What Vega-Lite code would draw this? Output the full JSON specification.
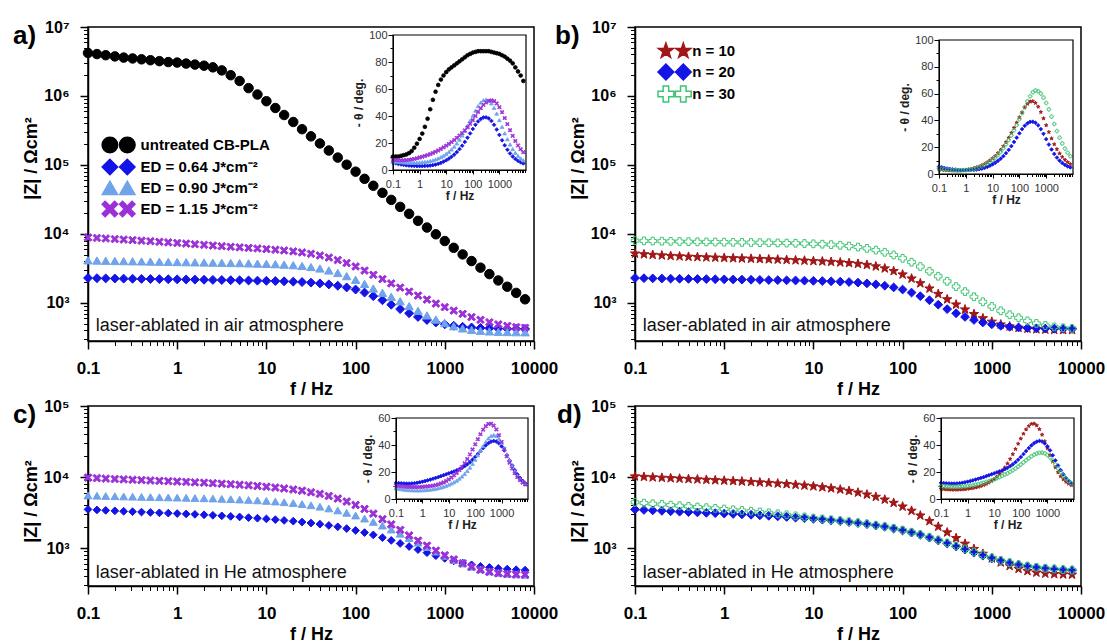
{
"$schema": "https://vega.github.io/schema/vega-lite/v6.json",
"background": "white",
"padding": {"left": 12, "top": 18, "right": 5, "bottom": 5},
"config": {
  "font": "Liberation Sans",
  "view": {"stroke": "black", "strokeWidth": 1.5},
  "axis": {"grid": false, "domainColor": "black", "tickColor": "black", "labelColor": "black", "titleColor": "black", "labelFlush": false, "labelOverlap": false}
},
"data": {"values": [
{"f":0.1,"u":4200000,"e1":2300,"e2":4150,"e3":8900,"n10":5200,"n30":8000,"c1":3500,"c2":5500,"c3":9800,"d10":10200,"d30":4400,"pu":10,"pe1":5.5,"pe2":6.5,"pe3":7.5,"pn10":3.5,"pn30":4.2,"pc1":12,"pc2":8,"pc3":10,"pd10":7.5,"pd30":9.6},
{"f":0.126,"u":4050000,"e1":2285,"e2":4120,"e3":8750,"n10":5080,"n30":7950,"c1":3440,"c2":5450,"c3":9650,"d10":10050,"d30":4300,"pu":10,"pe1":5,"pe2":6.2,"pe3":7.3,"pn10":3.2,"pn30":3.9,"pc1":11.8,"pc2":7.6,"pc3":9.7,"pd10":7.3,"pd30":9.4},
{"f":0.158,"u":3900000,"e1":2272,"e2":4090,"e3":8600,"n10":4980,"n30":7900,"c1":3390,"c2":5400,"c3":9500,"d10":9900,"d30":4200,"pu":10,"pe1":4.5,"pe2":6,"pe3":7.2,"pn10":3,"pn30":3.6,"pc1":11.6,"pc2":7.3,"pc3":9.4,"pd10":7.1,"pd30":9.2},
{"f":0.2,"u":3750000,"e1":2262,"e2":4060,"e3":8450,"n10":4890,"n30":7860,"c1":3340,"c2":5360,"c3":9380,"d10":9760,"d30":4110,"pu":10.5,"pe1":4.1,"pe2":5.8,"pe3":7.2,"pn10":2.8,"pn30":3.3,"pc1":11.5,"pc2":7,"pc3":9.2,"pd10":7,"pd30":9.1},
{"f":0.251,"u":3600000,"e1":2252,"e2":4040,"e3":8300,"n10":4810,"n30":7820,"c1":3290,"c2":5320,"c3":9260,"d10":9630,"d30":4020,"pu":11,"pe1":3.8,"pe2":5.6,"pe3":7.2,"pn10":2.7,"pn30":3.1,"pc1":11.4,"pc2":6.8,"pc3":9,"pd10":6.9,"pd30":9},
{"f":0.316,"u":3500000,"e1":2243,"e2":4020,"e3":8150,"n10":4740,"n30":7780,"c1":3250,"c2":5280,"c3":9150,"d10":9500,"d30":3940,"pu":11.5,"pe1":3.5,"pe2":5.5,"pe3":7.3,"pn10":2.6,"pn30":2.9,"pc1":11.4,"pc2":6.6,"pc3":8.9,"pd10":6.9,"pd30":9},
{"f":0.398,"u":3400000,"e1":2234,"e2":4000,"e3":8000,"n10":4680,"n30":7740,"c1":3210,"c2":5250,"c3":9040,"d10":9380,"d30":3860,"pu":12.5,"pe1":3.3,"pe2":5.4,"pe3":7.5,"pn10":2.6,"pn30":2.8,"pc1":11.5,"pc2":6.5,"pc3":8.8,"pd10":6.9,"pd30":9},
{"f":0.501,"u":3300000,"e1":2225,"e2":3980,"e3":7850,"n10":4630,"n30":7700,"c1":3170,"c2":5220,"c3":8940,"d10":9260,"d30":3780,"pu":14,"pe1":3.1,"pe2":5.4,"pe3":7.8,"pn10":2.6,"pn30":2.7,"pc1":11.7,"pc2":6.4,"pc3":8.8,"pd10":7,"pd30":9.1},
{"f":0.631,"u":3200000,"e1":2216,"e2":3960,"e3":7700,"n10":4580,"n30":7670,"c1":3130,"c2":5190,"c3":8840,"d10":9140,"d30":3700,"pu":16.5,"pe1":3,"pe2":5.4,"pe3":8.2,"pn10":2.7,"pn30":2.7,"pc1":12,"pc2":6.4,"pc3":8.8,"pd10":7.1,"pd30":9.2},
{"f":0.794,"u":3100000,"e1":2207,"e2":3940,"e3":7550,"n10":4540,"n30":7640,"c1":3100,"c2":5160,"c3":8740,"d10":9020,"d30":3620,"pu":19.5,"pe1":2.9,"pe2":5.5,"pe3":8.7,"pn10":2.9,"pn30":2.8,"pc1":12.4,"pc2":6.4,"pc3":8.9,"pd10":7.3,"pd30":9.4},
{"f":1,"u":3050000,"e1":2198,"e2":3920,"e3":7400,"n10":4500,"n30":7610,"c1":3060,"c2":5130,"c3":8640,"d10":8900,"d30":3540,"pu":23,"pe1":2.9,"pe2":5.6,"pe3":9.3,"pn10":3.1,"pn30":2.9,"pc1":12.8,"pc2":6.5,"pc3":9,"pd10":7.5,"pd30":9.6},
{"f":1.26,"u":2950000,"e1":2189,"e2":3900,"e3":7250,"n10":4460,"n30":7580,"c1":3020,"c2":5100,"c3":8530,"d10":8780,"d30":3460,"pu":27,"pe1":2.9,"pe2":5.8,"pe3":9.8,"pn10":3.4,"pn30":3.1,"pc1":13.3,"pc2":6.6,"pc3":9.2,"pd10":7.8,"pd30":9.9},
{"f":1.58,"u":2850000,"e1":2180,"e2":3880,"e3":7100,"n10":4420,"n30":7550,"c1":2980,"c2":5060,"c3":8420,"d10":8660,"d30":3380,"pu":32,"pe1":3,"pe2":6,"pe3":10.4,"pn10":3.8,"pn30":3.4,"pc1":13.8,"pc2":6.8,"pc3":9.4,"pd10":8.1,"pd30":10.2},
{"f":2,"u":2750000,"e1":2170,"e2":3860,"e3":6950,"n10":4380,"n30":7520,"c1":2940,"c2":5020,"c3":8300,"d10":8530,"d30":3300,"pu":38,"pe1":3.1,"pe2":6.3,"pe3":11.1,"pn10":4.3,"pn30":3.8,"pc1":14.4,"pc2":7,"pc3":9.6,"pd10":8.5,"pd30":10.6},
{"f":2.51,"u":2600000,"e1":2160,"e2":3840,"e3":6800,"n10":4340,"n30":7490,"c1":2890,"c2":4980,"c3":8180,"d10":8400,"d30":3220,"pu":45,"pe1":3.3,"pe2":6.7,"pe3":11.8,"pn10":4.9,"pn30":4.3,"pc1":15,"pc2":7.3,"pc3":9.9,"pd10":9,"pd30":11},
{"f":3.16,"u":2350000,"e1":2150,"e2":3820,"e3":6650,"n10":4300,"n30":7460,"c1":2840,"c2":4930,"c3":8050,"d10":8260,"d30":3130,"pu":52,"pe1":3.6,"pe2":7.2,"pe3":12.6,"pn10":5.6,"pn30":4.9,"pc1":15.6,"pc2":7.6,"pc3":10.3,"pd10":9.6,"pd30":11.5},
{"f":3.98,"u":2000000,"e1":2140,"e2":3800,"e3":6520,"n10":4260,"n30":7420,"c1":2790,"c2":4880,"c3":7920,"d10":8110,"d30":3040,"pu":58,"pe1":4,"pe2":7.8,"pe3":13.5,"pn10":6.5,"pn30":5.7,"pc1":16.2,"pc2":8,"pc3":10.8,"pd10":10.3,"pd30":12},
{"f":5.01,"u":1650000,"e1":2130,"e2":3780,"e3":6400,"n10":4210,"n30":7380,"c1":2740,"c2":4820,"c3":7780,"d10":7950,"d30":2940,"pu":63,"pe1":4.6,"pe2":8.6,"pe3":14.5,"pn10":7.5,"pn30":6.6,"pc1":16.9,"pc2":8.5,"pc3":11.5,"pd10":11.1,"pd30":12.6},
{"f":6.31,"u":1300000,"e1":2118,"e2":3750,"e3":6280,"n10":4160,"n30":7330,"c1":2680,"c2":4760,"c3":7630,"d10":7780,"d30":2840,"pu":67,"pe1":5.3,"pe2":9.5,"pe3":15.6,"pn10":8.7,"pn30":7.7,"pc1":17.6,"pc2":9.1,"pc3":12.3,"pd10":12.1,"pd30":13.2},
{"f":7.94,"u":1050000,"e1":2106,"e2":3720,"e3":6160,"n10":4110,"n30":7270,"c1":2630,"c2":4690,"c3":7470,"d10":7600,"d30":2740,"pu":70,"pe1":6.2,"pe2":10.6,"pe3":16.8,"pn10":10.1,"pn30":9,"pc1":18.3,"pc2":9.8,"pc3":13.3,"pd10":13.3,"pd30":13.9},
{"f":10,"u":840000,"e1":2093,"e2":3690,"e3":6040,"n10":4050,"n30":7200,"c1":2570,"c2":4610,"c3":7300,"d10":7400,"d30":2640,"pu":72.5,"pe1":7.2,"pe2":11.9,"pe3":18,"pn10":11.7,"pn30":10.5,"pc1":19,"pc2":10.6,"pc3":14.5,"pd10":14.7,"pd30":14.6},
{"f":12.6,"u":670000,"e1":2078,"e2":3650,"e3":5910,"n10":4000,"n30":7110,"c1":2510,"c2":4520,"c3":7110,"d10":7180,"d30":2570,"pu":74.5,"pe1":8.4,"pe2":13.4,"pe3":19.3,"pn10":13.5,"pn30":12.3,"pc1":19.7,"pc2":11.5,"pc3":15.9,"pd10":16.4,"pd30":15.4},
{"f":15.8,"u":530000,"e1":2060,"e2":3600,"e3":5770,"n10":3940,"n30":7000,"c1":2450,"c2":4420,"c3":6900,"d10":6940,"d30":2500,"pu":76,"pe1":9.8,"pe2":15.2,"pe3":20.7,"pn10":15.6,"pn30":14.3,"pc1":20.4,"pc2":12.5,"pc3":17.5,"pd10":18.4,"pd30":16.2},
{"f":20,"u":420000,"e1":2038,"e2":3530,"e3":5600,"n10":3870,"n30":6860,"c1":2390,"c2":4300,"c3":6670,"d10":6670,"d30":2430,"pu":77.5,"pe1":11.4,"pe2":17.3,"pe3":22.2,"pn10":18,"pn30":16.6,"pc1":21.2,"pc2":13.7,"pc3":19.3,"pd10":20.7,"pd30":17.1},
{"f":25.1,"u":330000,"e1":2010,"e2":3440,"e3":5400,"n10":3790,"n30":6680,"c1":2320,"c2":4160,"c3":6410,"d10":6370,"d30":2350,"pu":79,"pe1":13.3,"pe2":19.7,"pe3":23.8,"pn10":20.7,"pn30":19.2,"pc1":22.1,"pc2":15.1,"pc3":21.4,"pd10":23.3,"pd30":18},
{"f":31.6,"u":260000,"e1":1972,"e2":3320,"e3":5160,"n10":3690,"n30":6460,"c1":2250,"c2":4000,"c3":6110,"d10":6040,"d30":2270,"pu":80.5,"pe1":15.5,"pe2":22.5,"pe3":25.5,"pn10":23.7,"pn30":22.1,"pc1":23.1,"pc2":16.7,"pc3":23.8,"pd10":26.3,"pd30":19},
{"f":39.8,"u":205000,"e1":1922,"e2":3160,"e3":4880,"n10":3560,"n30":6180,"c1":2170,"c2":3820,"c3":5780,"d10":5670,"d30":2190,"pu":82,"pe1":18,"pe2":25.6,"pe3":27.3,"pn10":27,"pn30":25.3,"pc1":24.3,"pc2":18.6,"pc3":26.5,"pd10":29.6,"pd30":20.1},
{"f":50.1,"u":162000,"e1":1858,"e2":2960,"e3":4560,"n10":3390,"n30":5840,"c1":2080,"c2":3610,"c3":5400,"d10":5260,"d30":2100,"pu":83.5,"pe1":20.8,"pe2":29,"pe3":29.3,"pn10":30.6,"pn30":28.8,"pc1":25.7,"pc2":20.8,"pc3":29.6,"pd10":33.2,"pd30":21.3},
{"f":63.1,"u":128000,"e1":1778,"e2":2720,"e3":4190,"n10":3170,"n30":5430,"c1":1990,"c2":3380,"c3":4980,"d10":4810,"d30":2010,"pu":85,"pe1":23.9,"pe2":32.7,"pe3":31.6,"pn10":34.4,"pn30":32.6,"pc1":27.3,"pc2":23.3,"pc3":33,"pd10":37,"pd30":22.6},
{"f":79.4,"u":101000,"e1":1680,"e2":2450,"e3":3790,"n10":2900,"n30":4960,"c1":1880,"c2":3130,"c3":4520,"d10":4330,"d30":1900,"pu":86,"pe1":27.1,"pe2":36.5,"pe3":34.2,"pn10":38.3,"pn30":36.6,"pc1":29.1,"pc2":26.1,"pc3":36.7,"pd10":40.9,"pd30":24},
{"f":100,"u":80000,"e1":1565,"e2":2170,"e3":3380,"n10":2590,"n30":4440,"c1":1770,"c2":2870,"c3":4040,"d10":3840,"d30":1790,"pu":87,"pe1":30.4,"pe2":40.3,"pe3":37,"pn10":42.2,"pn30":41,"pc1":31.1,"pc2":29.2,"pc3":40.5,"pd10":44.7,"pd30":25.5},
{"f":126,"u":63000,"e1":1415,"e2":1890,"e3":2950,"n10":2260,"n30":3900,"c1":1650,"c2":2600,"c3":3550,"d10":3350,"d30":1670,"pu":87.5,"pe1":33.5,"pe2":44,"pe3":40,"pn10":46,"pn30":45.5,"pc1":33.3,"pc2":32.5,"pc3":44.3,"pd10":48.3,"pd30":27.1},
{"f":158,"u":50000,"e1":1255,"e2":1620,"e3":2560,"n10":1930,"n30":3370,"c1":1530,"c2":2330,"c3":3050,"d10":2870,"d30":1550,"pu":88,"pe1":36,"pe2":47.3,"pe3":43,"pn10":49.5,"pn30":50,"pc1":35.5,"pc2":35.9,"pc3":48,"pd10":51.5,"pd30":28.7},
{"f":200,"u":39500,"e1":1095,"e2":1400,"e3":2220,"n10":1620,"n30":2880,"c1":1400,"c2":2070,"c3":2550,"d10":2400,"d30":1420,"pu":88,"pe1":37.8,"pe2":50,"pe3":45.8,"pn10":52.3,"pn30":54.3,"pc1":37.7,"pc2":39.2,"pc3":51.3,"pd10":54,"pd30":30.2},
{"f":251,"u":31200,"e1":945,"e2":1230,"e3":1920,"n10":1350,"n30":2440,"c1":1280,"c2":1820,"c3":2150,"d10":2000,"d30":1300,"pu":88,"pe1":38.9,"pe2":51.7,"pe3":48.2,"pn10":54,"pn30":58,"pc1":39.7,"pc2":42.3,"pc3":54,"pd10":55.6,"pd30":31.6},
{"f":316,"u":24700,"e1":815,"e2":1060,"e3":1670,"n10":1130,"n30":2060,"c1":1160,"c2":1590,"c3":1800,"d10":1660,"d30":1180,"pu":88,"pe1":39,"pe2":52.2,"pe3":50,"pn10":54.3,"pn30":61,"pc1":41.3,"pc2":44.9,"pc3":55.6,"pd10":55.8,"pd30":32.8},
{"f":398,"u":19600,"e1":710,"e2":900,"e3":1460,"n10":950,"n30":1730,"c1":1050,"c2":1380,"c3":1510,"d10":1380,"d30":1070,"pu":88,"pe1":38.2,"pe2":51.5,"pe3":51.2,"pn10":53,"pn30":62.3,"pc1":42.5,"pc2":46.7,"pc3":55.8,"pd10":54.5,"pd30":33.7},
{"f":501,"u":15500,"e1":628,"e2":770,"e3":1280,"n10":805,"n30":1460,"c1":950,"c2":1190,"c3":1270,"d10":1150,"d30":970,"pu":87.5,"pe1":36.3,"pe2":49.3,"pe3":51.6,"pn10":50.2,"pn30":61.8,"pc1":43,"pc2":47.4,"pc3":54.4,"pd10":51.7,"pd30":34.2},
{"f":631,"u":12400,"e1":567,"e2":660,"e3":1120,"n10":690,"n30":1230,"c1":860,"c2":1030,"c3":1080,"d10":970,"d30":880,"pu":87,"pe1":33.5,"pe2":46,"pe3":51,"pn10":46.2,"pn30":60,"pc1":42.6,"pc2":46.8,"pc3":51.5,"pd10":47.6,"pd30":34.3},
{"f":794,"u":9900,"e1":522,"e2":575,"e3":980,"n10":600,"n30":1040,"c1":780,"c2":890,"c3":920,"d10":830,"d30":800,"pu":86.5,"pe1":30,"pe2":41.8,"pe3":49.3,"pn10":41.5,"pn30":57,"pc1":41.2,"pc2":44.8,"pc3":47.3,"pd10":42.7,"pd30":33.8},
{"f":1000,"u":7900,"e1":490,"e2":510,"e3":870,"n10":535,"n30":890,"c1":715,"c2":775,"c3":790,"d10":715,"d30":730,"pu":86,"pe1":26,"pe2":37,"pe3":46.5,"pn10":36.4,"pn30":53,"pc1":39,"pc2":41.6,"pc3":42.3,"pd10":37.5,"pd30":32.6},
{"f":1259,"u":6300,"e1":467,"e2":460,"e3":775,"n10":488,"n30":770,"c1":660,"c2":680,"c3":690,"d10":628,"d30":670,"pu":85,"pe1":22,"pe2":32,"pe3":42.8,"pn10":31.3,"pn30":48.2,"pc1":36,"pc2":37.6,"pc3":36.9,"pd10":32.4,"pd30":30.8},
{"f":1585,"u":5050,"e1":451,"e2":428,"e3":695,"n10":457,"n30":675,"c1":615,"c2":605,"c3":610,"d10":560,"d30":622,"pu":84,"pe1":18.3,"pe2":27.2,"pe3":38.5,"pn10":26.5,"pn30":42.8,"pc1":32.4,"pc2":33.1,"pc3":31.6,"pd10":27.6,"pd30":28.4},
{"f":1995,"u":4050,"e1":441,"e2":408,"e3":625,"n10":437,"n30":610,"c1":580,"c2":545,"c3":545,"d10":510,"d30":585,"pu":82.5,"pe1":15,"pe2":22.8,"pe3":34,"pn10":22.2,"pn30":37.3,"pc1":28.6,"pc2":28.6,"pc3":26.8,"pd10":23.4,"pd30":25.6},
{"f":2512,"u":3250,"e1":434,"e2":395,"e3":570,"n10":424,"n30":550,"c1":553,"c2":500,"c3":495,"d10":475,"d30":556,"pu":81,"pe1":12.3,"pe2":18.9,"pe3":29.5,"pn10":18.5,"pn30":32,"pc1":24.8,"pc2":24.4,"pc3":22.6,"pd10":19.8,"pd30":22.7},
{"f":3162,"u":2620,"e1":429,"e2":387,"e3":525,"n10":416,"n30":505,"c1":533,"c2":468,"c3":462,"d10":452,"d30":535,"pu":79,"pe1":10,"pe2":15.5,"pe3":25.3,"pn10":15.3,"pn30":27.1,"pc1":21.3,"pc2":20.6,"pc3":19.1,"pd10":16.8,"pd30":19.9},
{"f":3981,"u":2120,"e1":425,"e2":382,"e3":490,"n10":411,"n30":472,"c1":517,"c2":447,"c3":442,"d10":438,"d30":519,"pu":76,"pe1":8.2,"pe2":12.7,"pe3":21.5,"pn10":12.7,"pn30":22.8,"pc1":18.2,"pc2":17.4,"pc3":16.2,"pd10":14.5,"pd30":17.4},
{"f":5012,"u":1720,"e1":423,"e2":379,"e3":465,"n10":408,"n30":450,"c1":505,"c2":433,"c3":431,"d10":430,"d30":507,"pu":73,"pe1":6.8,"pe2":10.4,"pe3":18.2,"pn10":10.5,"pn30":19,"pc1":15.6,"pc2":14.8,"pc3":13.9,"pd10":12.7,"pd30":15.2},
{"f":6310,"u":1400,"e1":421,"e2":377,"e3":448,"n10":406,"n30":437,"c1":495,"c2":425,"c3":425,"d10":425,"d30":497,"pu":70,"pe1":5.7,"pe2":8.6,"pe3":15.4,"pn10":8.8,"pn30":15.9,"pc1":13.4,"pc2":12.7,"pc3":12.1,"pd10":11.3,"pd30":13.3},
{"f":7943,"u":1130,"e1":420,"e2":376,"e3":437,"n10":405,"n30":428,"c1":488,"c2":420,"c3":422,"d10":422,"d30":490,"pu":66,"pe1":4.9,"pe2":7.2,"pe3":13.2,"pn10":7.4,"pn30":13.3,"pc1":11.6,"pc2":11,"pc3":10.8,"pd10":10.2,"pd30":11.8}
]},
"columns": 2,
"spacing": {"row": 65, "column": 101},
"bounds": "flush",
"resolve": {"scale": {"fill": "independent", "stroke": "independent", "shape": "independent", "size": "independent"}},
"concat": [
{
  "width": 446, "height": 314,
  "title": {"text": "a)", "anchor": "start", "frame": "group", "fontSize": 26, "fontWeight": "bold", "color": "black", "dx": -75, "dy": 51, "offset": 0, "baseline": "alphabetic"},
  "layer": [
    {
      "transform": [{"fold": ["u", "e1", "e2", "e3"], "as": ["s", "z"]}],
      "mark": {"type": "point", "filled": true, "opacity": 1, "size": 0},
      "encoding": {
        "x": {"field": "f", "type": "quantitative", "scale": {"type": "log", "domain": [0.1, 10000], "nice": false}, "axis": null},
        "y": {"field": "z", "type": "quantitative", "scale": {"type": "log", "domain": [281, 10000000], "nice": false}, "axis": null},
        "fill": {"field": "s", "type": "nominal", "scale": {"domain": ["u", "e1", "e2", "e3"], "range": ["#000000", "#1414e6", "#6fa3ea", "#9b30d8"]},
                 "legend": {"orient": "none", "legendX": 21.6, "legendY": 109, "title": null, "padding": 0, "symbolSize": 250, "symbolOpacity": 1, "symbolStrokeWidth": 1.2, "labelFontSize": 15, "labelFontWeight": "bold", "labelColor": "black", "labelOffset": 13, "rowPadding": 0,
                            "labelExpr": "datum.value == 'u' ? 'untreated CB-PLA' : datum.value == 'e1' ? 'ED = 0.64 J*cm⁻²' : datum.value == 'e2' ? 'ED = 0.90 J*cm⁻²' : 'ED = 1.15 J*cm⁻²'"}},
        "stroke": {"field": "s", "type": "nominal", "scale": {"domain": ["u", "e1", "e2", "e3"], "range": ["#000000", "#1414e6", "#6fa3ea", "#9b30d8"]}},
        "shape": {"field": "s", "type": "nominal", "scale": {"domain": ["u", "e1", "e2", "e3"], "range": [
          "M-2.1,0A1,1 0 1,1 -0.1,0A1,1 0 1,1 -2.1,0ZM0.1,0A1,1 0 1,1 2.1,0A1,1 0 1,1 0.1,0Z",
          "M-2.1,0L-1.1,-1L-0.1,0L-1.1,1ZM0.1,0L1.1,-1L2.1,0L1.1,1Z",
          "M-2.1,0.85L-1.1,-0.9L-0.1,0.85ZM0.1,0.85L1.1,-0.9L2.1,0.85Z",
          "M-2.1,-0.6L-1.7,-1L-1.1,-0.4L-0.5,-1L-0.1,-0.6L-0.7,0L-0.1,0.6L-0.5,1L-1.1,0.4L-1.7,1L-2.1,0.6L-1.5,0ZM0.1,-0.6L0.5,-1L1.1,-0.4L1.7,-1L2.1,-0.6L1.5,0L2.1,0.6L1.7,1L1.1,0.4L0.5,1L0.1,0.6L0.7,0Z"]}}
      }
    },
    {
      "transform": [{"fold": ["u", "e1", "e2", "e3"], "as": ["s", "z"]}],
      "mark": {"type": "point", "filled": true, "opacity": 1, "strokeWidth": 1},
      "encoding": {
        "x": {"field": "f", "type": "quantitative", "scale": {"type": "log", "domain": [0.1, 10000], "nice": false},
              "axis": {"orient": "bottom", "values": [0.1, 1, 10, 100, 1000, 10000], "format": "~g", "labelFontSize": 17, "labelFontWeight": "bold", "labelPadding": 11, "tickSize": 8, "tickWidth": 1.5, "domainWidth": 1.5, "title": "f / Hz", "titleFontSize": 18, "titleFontWeight": "bold", "titlePadding": 4}},
        "y": {"field": "z", "type": "quantitative", "scale": {"type": "log", "domain": [281, 10000000], "nice": false},
              "axis": {"orient": "left", "values": [1000, 10000, 100000, 1000000, 10000000], "labelExpr": "'10' + ['⁰','¹','²','³','⁴','⁵','⁶','⁷'][round(log(datum.value)/LN10)]", "labelFontSize": 16, "labelFontWeight": "bold", "labelPadding": 11, "tickSize": 8, "tickWidth": 1.5, "domainWidth": 1.5, "title": "|Z| / Ωcm²", "titleFontSize": 18, "titleFontWeight": "bold", "titleX": -57, "titleY": 131, "titleBaseline": "middle", "titleAlign": "center", "titleAngle": -90}},
        "fill": {"field": "s", "type": "nominal", "scale": {"domain": ["u", "e1", "e2", "e3"], "range": ["#000000", "#1414e6", "#6fa3ea", "#9b30d8"]}, "legend": null},
        "stroke": {"field": "s", "type": "nominal", "scale": {"domain": ["u", "e1", "e2", "e3"], "range": ["#000000", "#1414e6", "#6fa3ea", "#9b30d8"]}, "legend": null},
        "shape": {"field": "s", "type": "nominal", "scale": {"domain": ["u", "e1", "e2", "e3"], "range": ["circle", "diamond", "triangle-up", "M-1,-0.6L-0.6,-1L0,-0.4L0.6,-1L1,-0.6L0.4,0L1,0.6L0.6,1L0,0.4L-0.6,1L-1,0.6L-0.4,0Z"]}, "legend": null},
        "size": {"field": "s", "type": "nominal", "scale": {"domain": ["u", "e1", "e2", "e3"], "range": [90, 60, 62, 70]}, "legend": null}
      }
    },
    {
      "data": {"values": [{}]},
      "mark": {"type": "text", "text": "laser-ablated in air atmosphere", "align": "left", "baseline": "middle", "fontSize": 18, "color": "#111111"},
      "encoding": {
        "x": {"datum": 0.122, "type": "quantitative", "scale": {"type": "log", "domain": [0.1, 10000], "nice": false},
              "axis": {"orient": "bottom", "values": [0.2,0.3,0.4,0.5,0.6,0.7,0.8,0.9,2,3,4,5,6,7,8,9,20,30,40,50,60,70,80,90,200,300,400,500,600,700,800,900,2000,3000,4000,5000,6000,7000,8000,9000], "labels": false, "domain": false, "tickSize": 4.5, "tickWidth": 1, "title": null}},
        "y": {"datum": 465, "type": "quantitative", "scale": {"type": "log", "domain": [281, 10000000], "nice": false},
              "axis": {"orient": "left", "values": [300,400,500,600,700,800,900,2000,3000,4000,5000,6000,7000,8000,9000,20000,30000,40000,50000,60000,70000,80000,90000,200000,300000,400000,500000,600000,700000,800000,900000,2000000,3000000,4000000,5000000,6000000,7000000,8000000,9000000], "labels": false, "domain": false, "tickSize": 4.5, "tickWidth": 1, "title": null}}
      }
    },
    {
      "transform": [{"fold": ["pu", "pe1", "pe2", "pe3"], "as": ["s", "p"]}],
      "mark": {"type": "point", "filled": true, "opacity": 1, "size": 14, "strokeWidth": 0.8},
      "encoding": {
        "x": {"field": "f", "type": "quantitative", "scale": {"type": "log", "domain": [0.1, 10000], "range": [305, 438], "nice": false},
              "axis": {"orient": "bottom", "offset": -171, "values": [0.1, 1, 10, 100, 1000], "format": "~g", "labelFontSize": 11, "labelColor": "#333333", "labelPadding": 4, "tickSize": 4, "tickWidth": 1, "domainWidth": 1, "title": "f / Hz", "titleFontSize": 12, "titleFontWeight": "bold", "titleColor": "#222222", "titlePadding": 1}},
        "y": {"field": "p", "type": "quantitative", "scale": {"domain": [0, 100], "range": [143, 8], "nice": false, "zero": false},
              "axis": {"orient": "left", "offset": -305, "values": [0, 20, 40, 60, 80, 100], "labelFontSize": 11, "labelColor": "#333333", "labelPadding": 1, "tickSize": 5, "tickWidth": 1, "domainWidth": 1, "title": "- θ / deg.", "titleFontSize": 12, "titleFontWeight": "bold", "titleColor": "#222222", "titlePadding": 3}},
        "fill": {"field": "s", "type": "nominal", "scale": {"domain": ["pu", "pe1", "pe2", "pe3"], "range": ["#000000", "#1414e6", "#6fa3ea", "#9b30d8"]}, "legend": null},
        "stroke": {"field": "s", "type": "nominal", "scale": {"domain": ["pu", "pe1", "pe2", "pe3"], "range": ["#000000", "#1414e6", "#6fa3ea", "#9b30d8"]}, "legend": null},
        "shape": {"field": "s", "type": "nominal", "scale": {"domain": ["pu", "pe1", "pe2", "pe3"], "range": ["circle", "diamond", "triangle-up", "M-1,-0.6L-0.6,-1L0,-0.4L0.6,-1L1,-0.6L0.4,0L1,0.6L0.6,1L0,0.4L-0.6,1L-1,0.6L-0.4,0Z"]}, "legend": null}
      }
    },
    {
      "data": {"values": [{}]},
      "mark": {"type": "rect", "fill": "transparent", "stroke": "black", "strokeWidth": 1.2},
      "encoding": {
        "x": {"datum": 0.1, "type": "quantitative", "scale": {"type": "log", "domain": [0.1, 10000], "range": [305, 438], "nice": false},
              "axis": {"orient": "bottom", "offset": -171, "values": [0.2,0.3,0.4,0.5,0.6,0.7,0.8,0.9,2,3,4,5,6,7,8,9,20,30,40,50,60,70,80,90,200,300,400,500,600,700,800,900,2000,3000,4000,5000,6000,7000,8000,9000], "labels": false, "domain": false, "tickSize": 2.5, "tickWidth": 1, "title": null}},
        "x2": {"datum": 10000},
        "y": {"datum": 0, "type": "quantitative", "scale": {"domain": [0, 100], "range": [143, 8], "nice": false, "zero": false},
              "axis": {"orient": "left", "offset": -305, "values": [10, 30, 50, 70, 90], "labels": false, "domain": false, "tickSize": 3, "tickWidth": 1, "title": null}},
        "y2": {"datum": 100}
      }
    }
  ],
  "resolve": {"scale": {"x": "independent", "y": "independent", "fill": "independent", "stroke": "independent", "shape": "independent", "size": "independent"}}
},
{
  "width": 446, "height": 314,
  "title": {"text": "b)", "anchor": "start", "frame": "group", "fontSize": 26, "fontWeight": "bold", "color": "black", "dx": -80, "dy": 51, "offset": 0, "baseline": "alphabetic"},
  "layer": [
    {
      "transform": [{"fold": ["n10", "e1", "n30"], "as": ["s", "z"]}],
      "mark": {"type": "point", "filled": true, "opacity": 1, "size": 0},
      "encoding": {
        "x": {"field": "f", "type": "quantitative", "scale": {"type": "log", "domain": [0.1, 10000], "nice": false}, "axis": null},
        "y": {"field": "z", "type": "quantitative", "scale": {"type": "log", "domain": [281, 10000000], "nice": false}, "axis": null},
        "fill": {"field": "s", "type": "nominal", "scale": {"domain": ["n10", "e1", "n30"], "range": ["#a11616", "#1414e6", "transparent"]},
                 "legend": {"orient": "none", "legendX": 30.6, "legendY": 15, "title": null, "padding": 0, "symbolSize": 250, "symbolOpacity": 1, "symbolStrokeWidth": 1.5, "labelFontSize": 15, "labelFontWeight": "bold", "labelColor": "black", "labelOffset": 8.6, "rowPadding": 0,
                            "labelExpr": "datum.value == 'n10' ? 'n = 10' : datum.value == 'e1' ? 'n = 20' : 'n = 30'"}},
        "stroke": {"field": "s", "type": "nominal", "scale": {"domain": ["n10", "e1", "n30"], "range": ["#a11616", "#1414e6", "#3fc474"]}},
        "shape": {"field": "s", "type": "nominal", "scale": {"domain": ["n10", "e1", "n30"], "range": [
          "M-1.1,-1L-0.865,-0.324L-0.149,-0.309L-0.72,0.124L-0.512,0.809L-1.1,0.4L-1.688,0.809L-1.48,0.124L-2.051,-0.309L-1.335,-0.324ZM1.1,-1L1.335,-0.324L2.051,-0.309L1.48,0.124L1.688,0.809L1.1,0.4L0.512,0.809L0.72,0.124L0.149,-0.309L0.865,-0.324Z",
          "M-2.1,0L-1.1,-1L-0.1,0L-1.1,1ZM0.1,0L1.1,-1L2.1,0L1.1,1Z",
          "M-1.45,-1H-0.75V-0.35H-0.1V0.35H-0.75V1H-1.45V0.35H-2.1V-0.35H-1.45ZM0.75,-1H1.45V-0.35H2.1V0.35H1.45V1H0.75V0.35H0.1V-0.35H0.75Z"]}}
      }
    },
    {
      "transform": [{"fold": ["n10", "e1", "n30"], "as": ["s", "z"]}],
      "mark": {"type": "point", "filled": true, "opacity": 1, "strokeWidth": 1},
      "encoding": {
        "x": {"field": "f", "type": "quantitative", "scale": {"type": "log", "domain": [0.1, 10000], "nice": false},
              "axis": {"orient": "bottom", "values": [0.1, 1, 10, 100, 1000, 10000], "format": "~g", "labelFontSize": 17, "labelFontWeight": "bold", "labelPadding": 11, "tickSize": 8, "tickWidth": 1.5, "domainWidth": 1.5, "title": "f / Hz", "titleFontSize": 18, "titleFontWeight": "bold", "titlePadding": 4}},
        "y": {"field": "z", "type": "quantitative", "scale": {"type": "log", "domain": [281, 10000000], "nice": false},
              "axis": {"orient": "left", "values": [1000, 10000, 100000, 1000000, 10000000], "labelExpr": "'10' + ['⁰','¹','²','³','⁴','⁵','⁶','⁷'][round(log(datum.value)/LN10)]", "labelFontSize": 16, "labelFontWeight": "bold", "labelPadding": 11, "tickSize": 8, "tickWidth": 1.5, "domainWidth": 1.5, "title": "|Z| / Ωcm²", "titleFontSize": 18, "titleFontWeight": "bold", "titleX": -57, "titleY": 131, "titleBaseline": "middle", "titleAlign": "center", "titleAngle": -90}},
        "fill": {"field": "s", "type": "nominal", "scale": {"domain": ["n10", "e1", "n30"], "range": ["#a11616", "#1414e6", "transparent"]}, "legend": null},
        "stroke": {"field": "s", "type": "nominal", "scale": {"domain": ["n10", "e1", "n30"], "range": ["#a11616", "#1414e6", "#3fc474"]}, "legend": null},
        "shape": {"field": "s", "type": "nominal", "scale": {"domain": ["n10", "e1", "n30"], "range": ["M0,-1L0.235,-0.324L0.951,-0.309L0.38,0.124L0.588,0.809L0,0.4L-0.588,0.809L-0.38,0.124L-0.951,-0.309L-0.235,-0.324Z", "diamond", "cross"]}, "legend": null},
        "size": {"field": "s", "type": "nominal", "scale": {"domain": ["n10", "e1", "n30"], "range": [95, 60, 85]}, "legend": null}
      }
    },
    {
      "data": {"values": [{}]},
      "mark": {"type": "text", "text": "laser-ablated in air atmosphere", "align": "left", "baseline": "middle", "fontSize": 18, "color": "#111111"},
      "encoding": {
        "x": {"datum": 0.122, "type": "quantitative", "scale": {"type": "log", "domain": [0.1, 10000], "nice": false},
              "axis": {"orient": "bottom", "values": [0.2,0.3,0.4,0.5,0.6,0.7,0.8,0.9,2,3,4,5,6,7,8,9,20,30,40,50,60,70,80,90,200,300,400,500,600,700,800,900,2000,3000,4000,5000,6000,7000,8000,9000], "labels": false, "domain": false, "tickSize": 4.5, "tickWidth": 1, "title": null}},
        "y": {"datum": 465, "type": "quantitative", "scale": {"type": "log", "domain": [281, 10000000], "nice": false},
              "axis": {"orient": "left", "values": [300,400,500,600,700,800,900,2000,3000,4000,5000,6000,7000,8000,9000,20000,30000,40000,50000,60000,70000,80000,90000,200000,300000,400000,500000,600000,700000,800000,900000,2000000,3000000,4000000,5000000,6000000,7000000,8000000,9000000], "labels": false, "domain": false, "tickSize": 4.5, "tickWidth": 1, "title": null}}
      }
    },
    {
      "transform": [{"fold": ["pn10", "pe1", "pn30"], "as": ["s", "p"]}],
      "mark": {"type": "point", "filled": true, "opacity": 1, "size": 14, "strokeWidth": 0.8},
      "encoding": {
        "x": {"field": "f", "type": "quantitative", "scale": {"type": "log", "domain": [0.1, 10000], "range": [304, 438], "nice": false},
              "axis": {"orient": "bottom", "offset": -167, "values": [0.1, 1, 10, 100, 1000], "format": "~g", "labelFontSize": 11, "labelColor": "#333333", "labelPadding": 4, "tickSize": 4, "tickWidth": 1, "domainWidth": 1, "title": "f / Hz", "titleFontSize": 12, "titleFontWeight": "bold", "titleColor": "#222222", "titlePadding": 1}},
        "y": {"field": "p", "type": "quantitative", "scale": {"domain": [0, 100], "range": [147, 13], "nice": false, "zero": false},
              "axis": {"orient": "left", "offset": -304, "values": [0, 20, 40, 60, 80, 100], "labelFontSize": 11, "labelColor": "#333333", "labelPadding": 1, "tickSize": 5, "tickWidth": 1, "domainWidth": 1, "title": "- θ / deg.", "titleFontSize": 12, "titleFontWeight": "bold", "titleColor": "#222222", "titlePadding": 3}},
        "fill": {"field": "s", "type": "nominal", "scale": {"domain": ["pn10", "pe1", "pn30"], "range": ["#a11616", "#1414e6", "transparent"]}, "legend": null},
        "stroke": {"field": "s", "type": "nominal", "scale": {"domain": ["pn10", "pe1", "pn30"], "range": ["#a11616", "#1414e6", "#3fc474"]}, "legend": null},
        "shape": {"field": "s", "type": "nominal", "scale": {"domain": ["pn10", "pe1", "pn30"], "range": ["M0,-1L0.235,-0.324L0.951,-0.309L0.38,0.124L0.588,0.809L0,0.4L-0.588,0.809L-0.38,0.124L-0.951,-0.309L-0.235,-0.324Z", "diamond", "cross"]}, "legend": null}
      }
    },
    {
      "data": {"values": [{}]},
      "mark": {"type": "rect", "fill": "transparent", "stroke": "black", "strokeWidth": 1.2},
      "encoding": {
        "x": {"datum": 0.1, "type": "quantitative", "scale": {"type": "log", "domain": [0.1, 10000], "range": [304, 438], "nice": false},
              "axis": {"orient": "bottom", "offset": -167, "values": [0.2,0.3,0.4,0.5,0.6,0.7,0.8,0.9,2,3,4,5,6,7,8,9,20,30,40,50,60,70,80,90,200,300,400,500,600,700,800,900,2000,3000,4000,5000,6000,7000,8000,9000], "labels": false, "domain": false, "tickSize": 2.5, "tickWidth": 1, "title": null}},
        "x2": {"datum": 10000},
        "y": {"datum": 0, "type": "quantitative", "scale": {"domain": [0, 100], "range": [147, 13], "nice": false, "zero": false},
              "axis": {"orient": "left", "offset": -304, "values": [10, 30, 50, 70, 90], "labels": false, "domain": false, "tickSize": 3, "tickWidth": 1, "title": null}},
        "y2": {"datum": 100}
      }
    }
  ],
  "resolve": {"scale": {"x": "independent", "y": "independent", "fill": "independent", "stroke": "independent", "shape": "independent", "size": "independent"}}
},
{
  "width": 446, "height": 180,
  "title": {"text": "c)", "anchor": "start", "frame": "group", "fontSize": 26, "fontWeight": "bold", "color": "black", "dx": -75, "dy": 51, "offset": 0, "baseline": "alphabetic"},
  "layer": [
    {
      "transform": [{"fold": ["c1", "c2", "c3"], "as": ["s", "z"]}],
      "mark": {"type": "point", "filled": true, "opacity": 1, "strokeWidth": 1},
      "encoding": {
        "x": {"field": "f", "type": "quantitative", "scale": {"type": "log", "domain": [0.1, 10000], "nice": false},
              "axis": {"orient": "bottom", "values": [0.1, 1, 10, 100, 1000, 10000], "format": "~g", "labelFontSize": 17, "labelFontWeight": "bold", "labelPadding": 11, "tickSize": 8, "tickWidth": 1.5, "domainWidth": 1.5, "title": "f / Hz", "titleFontSize": 18, "titleFontWeight": "bold", "titlePadding": 4}},
        "y": {"field": "z", "type": "quantitative", "scale": {"type": "log", "domain": [292, 100000], "nice": false},
              "axis": {"orient": "left", "values": [1000, 10000, 100000], "labelExpr": "'10' + ['⁰','¹','²','³','⁴','⁵','⁶','⁷'][round(log(datum.value)/LN10)]", "labelFontSize": 16, "labelFontWeight": "bold", "labelPadding": 11, "tickSize": 8, "tickWidth": 1.5, "domainWidth": 1.5, "title": "|Z| / Ωcm²", "titleFontSize": 18, "titleFontWeight": "bold", "titleX": -57, "titleY": 95, "titleBaseline": "middle", "titleAlign": "center", "titleAngle": -90}},
        "fill": {"field": "s", "type": "nominal", "scale": {"domain": ["c1", "c2", "c3"], "range": ["#1414e6", "#6fa3ea", "#9b30d8"]}, "legend": null},
        "stroke": {"field": "s", "type": "nominal", "scale": {"domain": ["c1", "c2", "c3"], "range": ["#1414e6", "#6fa3ea", "#9b30d8"]}, "legend": null},
        "shape": {"field": "s", "type": "nominal", "scale": {"domain": ["c1", "c2", "c3"], "range": ["diamond", "triangle-up", "M-1,-0.6L-0.6,-1L0,-0.4L0.6,-1L1,-0.6L0.4,0L1,0.6L0.6,1L0,0.4L-0.6,1L-1,0.6L-0.4,0Z"]}, "legend": null},
        "size": {"field": "s", "type": "nominal", "scale": {"domain": ["c1", "c2", "c3"], "range": [60, 62, 70]}, "legend": null}
      }
    },
    {
      "data": {"values": [{}]},
      "mark": {"type": "text", "text": "laser-ablated in He atmosphere", "align": "left", "baseline": "middle", "fontSize": 18, "color": "#111111"},
      "encoding": {
        "x": {"datum": 0.122, "type": "quantitative", "scale": {"type": "log", "domain": [0.1, 10000], "nice": false},
              "axis": {"orient": "bottom", "values": [0.2,0.3,0.4,0.5,0.6,0.7,0.8,0.9,2,3,4,5,6,7,8,9,20,30,40,50,60,70,80,90,200,300,400,500,600,700,800,900,2000,3000,4000,5000,6000,7000,8000,9000], "labels": false, "domain": false, "tickSize": 4.5, "tickWidth": 1, "title": null}},
        "y": {"datum": 452, "type": "quantitative", "scale": {"type": "log", "domain": [292, 100000], "nice": false},
              "axis": {"orient": "left", "values": [300,400,500,600,700,800,900,2000,3000,4000,5000,6000,7000,8000,9000,20000,30000,40000,50000,60000,70000,80000,90000], "labels": false, "domain": false, "tickSize": 4.5, "tickWidth": 1, "title": null}}
      }
    },
    {
      "transform": [{"fold": ["pc1", "pc2", "pc3"], "as": ["s", "p"]}],
      "mark": {"type": "point", "filled": true, "opacity": 1, "size": 14, "strokeWidth": 0.8},
      "encoding": {
        "x": {"field": "f", "type": "quantitative", "scale": {"type": "log", "domain": [0.1, 10000], "range": [308, 440], "nice": false},
              "axis": {"orient": "bottom", "offset": -87, "values": [0.1, 1, 10, 100, 1000], "format": "~g", "labelFontSize": 11, "labelColor": "#333333", "labelPadding": 4, "tickSize": 4, "tickWidth": 1, "domainWidth": 1, "title": "f / Hz", "titleFontSize": 12, "titleFontWeight": "bold", "titleColor": "#222222", "titlePadding": 1}},
        "y": {"field": "p", "type": "quantitative", "scale": {"domain": [0, 60], "range": [93, 12], "nice": false, "zero": false},
              "axis": {"orient": "left", "offset": -308, "values": [0, 20, 40, 60], "labelFontSize": 11, "labelColor": "#333333", "labelPadding": 1, "tickSize": 5, "tickWidth": 1, "domainWidth": 1, "title": "- θ / deg.", "titleFontSize": 12, "titleFontWeight": "bold", "titleColor": "#222222", "titlePadding": 3}},
        "fill": {"field": "s", "type": "nominal", "scale": {"domain": ["pc1", "pc2", "pc3"], "range": ["#1414e6", "#6fa3ea", "#9b30d8"]}, "legend": null},
        "stroke": {"field": "s", "type": "nominal", "scale": {"domain": ["pc1", "pc2", "pc3"], "range": ["#1414e6", "#6fa3ea", "#9b30d8"]}, "legend": null},
        "shape": {"field": "s", "type": "nominal", "scale": {"domain": ["pc1", "pc2", "pc3"], "range": ["diamond", "triangle-up", "M-1,-0.6L-0.6,-1L0,-0.4L0.6,-1L1,-0.6L0.4,0L1,0.6L0.6,1L0,0.4L-0.6,1L-1,0.6L-0.4,0Z"]}, "legend": null}
      }
    },
    {
      "data": {"values": [{}]},
      "mark": {"type": "rect", "fill": "transparent", "stroke": "black", "strokeWidth": 1.2},
      "encoding": {
        "x": {"datum": 0.1, "type": "quantitative", "scale": {"type": "log", "domain": [0.1, 10000], "range": [308, 440], "nice": false},
              "axis": {"orient": "bottom", "offset": -87, "values": [0.2,0.3,0.4,0.5,0.6,0.7,0.8,0.9,2,3,4,5,6,7,8,9,20,30,40,50,60,70,80,90,200,300,400,500,600,700,800,900,2000,3000,4000,5000,6000,7000,8000,9000], "labels": false, "domain": false, "tickSize": 2.5, "tickWidth": 1, "title": null}},
        "x2": {"datum": 10000},
        "y": {"datum": 0, "type": "quantitative", "scale": {"domain": [0, 60], "range": [93, 12], "nice": false, "zero": false},
              "axis": {"orient": "left", "offset": -308, "values": [10, 30, 50], "labels": false, "domain": false, "tickSize": 3, "tickWidth": 1, "title": null}},
        "y2": {"datum": 60}
      }
    }
  ],
  "resolve": {"scale": {"x": "independent", "y": "independent", "fill": "independent", "stroke": "independent", "shape": "independent", "size": "independent"}}
},
{
  "width": 446, "height": 180,
  "title": {"text": "d)", "anchor": "start", "frame": "group", "fontSize": 26, "fontWeight": "bold", "color": "black", "dx": -78, "dy": 51, "offset": 0, "baseline": "alphabetic"},
  "layer": [
    {
      "transform": [{"fold": ["d10", "c1", "d30"], "as": ["s", "z"]}],
      "mark": {"type": "point", "filled": true, "opacity": 1, "strokeWidth": 1},
      "encoding": {
        "x": {"field": "f", "type": "quantitative", "scale": {"type": "log", "domain": [0.1, 10000], "nice": false},
              "axis": {"orient": "bottom", "values": [0.1, 1, 10, 100, 1000, 10000], "format": "~g", "labelFontSize": 17, "labelFontWeight": "bold", "labelPadding": 11, "tickSize": 8, "tickWidth": 1.5, "domainWidth": 1.5, "title": "f / Hz", "titleFontSize": 18, "titleFontWeight": "bold", "titlePadding": 4}},
        "y": {"field": "z", "type": "quantitative", "scale": {"type": "log", "domain": [292, 100000], "nice": false},
              "axis": {"orient": "left", "values": [1000, 10000, 100000], "labelExpr": "'10' + ['⁰','¹','²','³','⁴','⁵','⁶','⁷'][round(log(datum.value)/LN10)]", "labelFontSize": 16, "labelFontWeight": "bold", "labelPadding": 11, "tickSize": 8, "tickWidth": 1.5, "domainWidth": 1.5, "title": "|Z| / Ωcm²", "titleFontSize": 18, "titleFontWeight": "bold", "titleX": -57, "titleY": 95, "titleBaseline": "middle", "titleAlign": "center", "titleAngle": -90}},
        "fill": {"field": "s", "type": "nominal", "scale": {"domain": ["d10", "c1", "d30"], "range": ["#a11616", "#1414e6", "transparent"]}, "legend": null},
        "stroke": {"field": "s", "type": "nominal", "scale": {"domain": ["d10", "c1", "d30"], "range": ["#a11616", "#1414e6", "#3fc474"]}, "legend": null},
        "shape": {"field": "s", "type": "nominal", "scale": {"domain": ["d10", "c1", "d30"], "range": ["M0,-1L0.235,-0.324L0.951,-0.309L0.38,0.124L0.588,0.809L0,0.4L-0.588,0.809L-0.38,0.124L-0.951,-0.309L-0.235,-0.324Z", "diamond", "cross"]}, "legend": null},
        "size": {"field": "s", "type": "nominal", "scale": {"domain": ["d10", "c1", "d30"], "range": [95, 60, 85]}, "legend": null}
      }
    },
    {
      "data": {"values": [{}]},
      "mark": {"type": "text", "text": "laser-ablated in He atmosphere", "align": "left", "baseline": "middle", "fontSize": 18, "color": "#111111"},
      "encoding": {
        "x": {"datum": 0.122, "type": "quantitative", "scale": {"type": "log", "domain": [0.1, 10000], "nice": false},
              "axis": {"orient": "bottom", "values": [0.2,0.3,0.4,0.5,0.6,0.7,0.8,0.9,2,3,4,5,6,7,8,9,20,30,40,50,60,70,80,90,200,300,400,500,600,700,800,900,2000,3000,4000,5000,6000,7000,8000,9000], "labels": false, "domain": false, "tickSize": 4.5, "tickWidth": 1, "title": null}},
        "y": {"datum": 452, "type": "quantitative", "scale": {"type": "log", "domain": [292, 100000], "nice": false},
              "axis": {"orient": "left", "values": [300,400,500,600,700,800,900,2000,3000,4000,5000,6000,7000,8000,9000,20000,30000,40000,50000,60000,70000,80000,90000], "labels": false, "domain": false, "tickSize": 4.5, "tickWidth": 1, "title": null}}
      }
    },
    {
      "transform": [{"fold": ["pd10", "pc1", "pd30"], "as": ["s", "p"]}],
      "mark": {"type": "point", "filled": true, "opacity": 1, "size": 14, "strokeWidth": 0.8},
      "encoding": {
        "x": {"field": "f", "type": "quantitative", "scale": {"type": "log", "domain": [0.1, 10000], "range": [306, 439], "nice": false},
              "axis": {"orient": "bottom", "offset": -87, "values": [0.1, 1, 10, 100, 1000], "format": "~g", "labelFontSize": 11, "labelColor": "#333333", "labelPadding": 4, "tickSize": 4, "tickWidth": 1, "domainWidth": 1, "title": "f / Hz", "titleFontSize": 12, "titleFontWeight": "bold", "titleColor": "#222222", "titlePadding": 1}},
        "y": {"field": "p", "type": "quantitative", "scale": {"domain": [0, 60], "range": [93, 12], "nice": false, "zero": false},
              "axis": {"orient": "left", "offset": -306, "values": [0, 20, 40, 60], "labelFontSize": 11, "labelColor": "#333333", "labelPadding": 1, "tickSize": 5, "tickWidth": 1, "domainWidth": 1, "title": "- θ / deg.", "titleFontSize": 12, "titleFontWeight": "bold", "titleColor": "#222222", "titlePadding": 3}},
        "fill": {"field": "s", "type": "nominal", "scale": {"domain": ["pd10", "pc1", "pd30"], "range": ["#a11616", "#1414e6", "transparent"]}, "legend": null},
        "stroke": {"field": "s", "type": "nominal", "scale": {"domain": ["pd10", "pc1", "pd30"], "range": ["#a11616", "#1414e6", "#3fc474"]}, "legend": null},
        "shape": {"field": "s", "type": "nominal", "scale": {"domain": ["pd10", "pc1", "pd30"], "range": ["M0,-1L0.235,-0.324L0.951,-0.309L0.38,0.124L0.588,0.809L0,0.4L-0.588,0.809L-0.38,0.124L-0.951,-0.309L-0.235,-0.324Z", "diamond", "cross"]}, "legend": null}
      }
    },
    {
      "data": {"values": [{}]},
      "mark": {"type": "rect", "fill": "transparent", "stroke": "black", "strokeWidth": 1.2},
      "encoding": {
        "x": {"datum": 0.1, "type": "quantitative", "scale": {"type": "log", "domain": [0.1, 10000], "range": [306, 439], "nice": false},
              "axis": {"orient": "bottom", "offset": -87, "values": [0.2,0.3,0.4,0.5,0.6,0.7,0.8,0.9,2,3,4,5,6,7,8,9,20,30,40,50,60,70,80,90,200,300,400,500,600,700,800,900,2000,3000,4000,5000,6000,7000,8000,9000], "labels": false, "domain": false, "tickSize": 2.5, "tickWidth": 1, "title": null}},
        "x2": {"datum": 10000},
        "y": {"datum": 0, "type": "quantitative", "scale": {"domain": [0, 60], "range": [93, 12], "nice": false, "zero": false},
              "axis": {"orient": "left", "offset": -306, "values": [10, 30, 50], "labels": false, "domain": false, "tickSize": 3, "tickWidth": 1, "title": null}},
        "y2": {"datum": 60}
      }
    }
  ],
  "resolve": {"scale": {"x": "independent", "y": "independent", "fill": "independent", "stroke": "independent", "shape": "independent", "size": "independent"}}
}
]
}
